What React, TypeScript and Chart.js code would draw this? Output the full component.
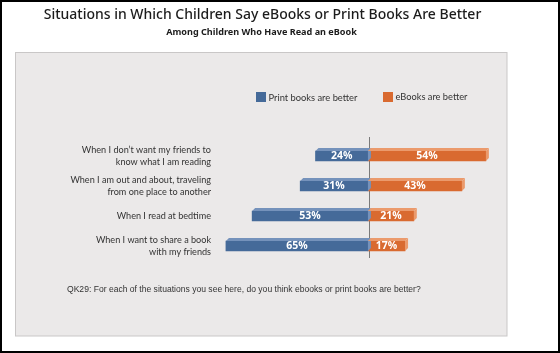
import React, { useEffect, useRef } from "react";
import { Chart, registerables } from "chart.js";

Chart.register(...registerables);

const titleText = "Situations in Which Children Say eBooks or Print Books Are Better";
const subtitleText = "Among Children Who Have Read an eBook";
const footnoteText = "QK29: For each of the situations you see here, do you think ebooks or print books are better?";
const categories: string[][] = [
  ["When I don\u2019t want my friends to", "know what I am reading"],
  ["When I am out and about, traveling", "from one place to another"],
  ["When I read at bedtime"],
  ["When I want to share a book", "with my friends"],
];
const seriesNames = ["Print books are better", "eBooks are better"];
const printBetter = [24, 31, 53, 65];
const ebooksBetter = [54, 43, 21, 17];

const BLUE = "#456a99";
const BLUE_LIGHT = "#7592bb";
const ORANGE = "#d96a30";
const ORANGE_LIGHT = "#eb9a6c";

function fitText(ctx: CanvasRenderingContext2D, text: string, x: number, y: number, width: number, weight: string, family: string, align: CanvasTextAlign, color: string) {
  ctx.font = `${weight} 20px ${family}`;
  const w = ctx.measureText(text).width;
  const size = (20 * width) / w;
  ctx.font = `${weight} ${size}px ${family}`;
  ctx.textAlign = align;
  ctx.textBaseline = "middle";
  ctx.fillStyle = color;
  ctx.fillText(text, x, y);
}

const decor = {
  id: "decor",
  beforeDraw(chart: any) {
    const ctx: CanvasRenderingContext2D = chart.ctx;
    ctx.save();
    ctx.fillStyle = "#ffffff";
    ctx.fillRect(0, 0, 560, 353);
    ctx.fillStyle = "#ebe9e9";
    ctx.fillRect(15.5, 52.5, 491.5, 283.5);
    ctx.strokeStyle = "#c9c7c7";
    ctx.lineWidth = 1;
    ctx.strokeRect(15.5, 52.5, 491.5, 283.5);
    ctx.strokeStyle = "#000";
    ctx.lineWidth = 2;
    ctx.strokeRect(1, 1, 558, 351);
    fitText(ctx, titleText, 262.5, 15, 438, "500", "'Noto Sans', sans-serif", "center", "#1c1c1c");
    fitText(ctx, subtitleText, 261.5, 32, 191, "bold", "'Noto Sans', sans-serif", "center", "#1c1c1c");
    // legend
    ctx.fillStyle = BLUE;
    ctx.fillRect(256, 92, 10, 10);
    ctx.fillStyle = ORANGE;
    ctx.fillRect(383, 92, 10, 10);
    fitText(ctx, seriesNames[0], 268.5, 97.5, 89, "normal", "Lato, sans-serif", "left", "#333");
    fitText(ctx, seriesNames[1], 395.5, 97.5, 72, "normal", "Lato, sans-serif", "left", "#333");
    fitText(ctx, footnoteText, 67, 290, 354, "normal", "'Liberation Sans', Arial, sans-serif", "left", "#333");
    ctx.restore();
  },
  beforeDatasetsDraw(chart: any) {
    const ctx: CanvasRenderingContext2D = chart.ctx;
    const x0 = Math.round(chart.scales.x.getPixelForValue(0)) + 1.5;
    ctx.save();
    ctx.strokeStyle = "#7a7a7a";
    ctx.lineWidth = 1;
    ctx.beginPath();
    ctx.moveTo(x0, chart.chartArea.top - 4);
    ctx.lineTo(x0, chart.chartArea.bottom - 3);
    ctx.stroke();
    ctx.restore();
  },
  afterDatasetsDraw(chart: any) {
    const ctx: CanvasRenderingContext2D = chart.ctx;
    const d = 3;
    ctx.save();
    chart.data.datasets.forEach((ds: any, i: number) => {
      const meta = chart.getDatasetMeta(i);
      const light = i === 0 ? BLUE_LIGHT : ORANGE_LIGHT;
      meta.data.forEach((el: any, j: number) => {
        const p = el.getProps(["x", "y", "base", "height"], true);
        const left = Math.min(p.x, p.base);
        const right = Math.max(p.x, p.base);
        const top = p.y - p.height / 2;
        const bottom = p.y + p.height / 2;
        ctx.fillStyle = light;
        ctx.beginPath();
        ctx.moveTo(left, top);
        ctx.lineTo(left + d, top - d);
        ctx.lineTo(right + d, top - d);
        ctx.lineTo(right, top);
        ctx.closePath();
        ctx.fill();
        ctx.beginPath();
        ctx.moveTo(right, top);
        ctx.lineTo(right + d, top - d);
        ctx.lineTo(right + d, bottom - d);
        ctx.lineTo(right, bottom);
        ctx.closePath();
        ctx.fill();
        const v = i === 0 ? printBetter[j] : ebooksBetter[j];
        ctx.fillStyle = "#ffffff";
        ctx.font = "bold 10.5px 'Open Sans', sans-serif";
        ctx.textAlign = "center";
        ctx.textBaseline = "middle";
        ctx.fillText(`${v}%`, (left + right) / 2, p.y + 0.5);
      });
    });
    ctx.restore();
  },
};

export default function App() {
  const ref = useRef<HTMLCanvasElement>(null);
  useEffect(() => {
    document.body.style.margin = "0";
    const chart = new Chart(ref.current!, {
      type: "bar",
      data: {
        labels: categories,
        datasets: [
          { label: seriesNames[0], data: printBetter.map((v) => -v), backgroundColor: BLUE, barThickness: 10, borderWidth: 0 },
          { label: seriesNames[1], data: ebooksBetter, backgroundColor: ORANGE, barThickness: 10, borderWidth: 0 },
        ],
      },
      options: {
        indexAxis: "y",
        responsive: false,
        animation: false,
        layout: { padding: { left: 0, right: 61, top: 141, bottom: 92 } },
        plugins: { legend: { display: false }, title: { display: false }, tooltip: { enabled: false } },
        scales: {
          x: { stacked: true, display: false, min: -70, max: 60 },
          y: {
            stacked: true,
            grid: { display: false, drawTicks: false },
            border: { display: false },
            ticks: { padding: 4, color: "#333", font: { family: "Lato, sans-serif", size: 9.1, lineHeight: 1.3 } },
            afterFit: (s: any) => { s.width = 215; },
          },
        },
      },
      plugins: [decor],
    });
    return () => chart.destroy();
  }, []);
  return (
    <div style={{ width: 560, height: 353 }}>
      <canvas ref={ref} width={560} height={353} />
    </div>
  );
}
